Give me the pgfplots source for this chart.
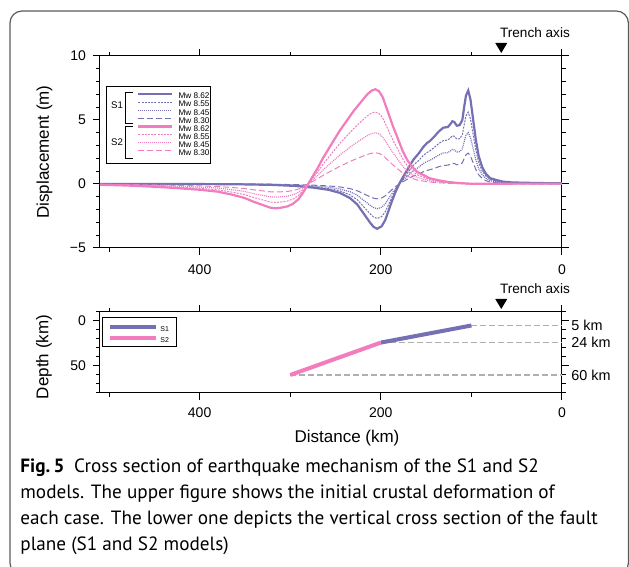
\documentclass[border=0pt]{standalone}
\usepackage{fontspec}
\setmainfont{Liberation Sans}
\newfontfamily\capfont{PT Sans}
\usepackage{pgfplots}
\pgfplotsset{compat=1.18}

\definecolor{sone}{RGB}{117,112,179}
\definecolor{stwo}{RGB}{242,125,190}
\definecolor{framecol}{RGB}{90,90,90}
\definecolor{guide}{RGB}{175,175,175}

\newcommand{\fs}[1]{\fontsize{#1}{#1}\selectfont}

\pgfplotsset{
  gmt/.style={
    scale only axis, width=231pt,
    x dir=reverse, xmin=0, xmax=510,
    xtick={0,200,400}, minor xtick={100,300,500},
    tick align=outside, major tick length=3.5pt, minor tick length=2pt,
    axis line style={line width=0.5pt},
    every tick/.style={black, line width=0.5pt},
    every minor tick/.style={black, line width=0.5pt},
    ticklabel style={font=\fs{7}},
    /pgf/number format/assume math mode=true,
    clip=false,
  },
  l62/.style={line width=1.1pt},
  l55/.style={line width=0.5pt, dash pattern=on 1pt off 0.6pt},
  l45/.style={line width=0.6pt, dash pattern=on 0.5pt off 0.5pt},
  l30/.style={line width=0.5pt, dash pattern=on 3pt off 1.5pt},
}

% displacement profiles (distance km, displacement m)
\pgfplotstableread{
d v
0 0.05
30 0.08
55 0.12
65 0.18
72 0.30
79 0.45
84 0.80
88 1.30
92 2.20
95 3.40
98 5.00
101 6.60
103.5 7.30
106 6.90
108 6.00
110 5.00
113 4.60
116 4.55
119 4.85
121 4.90
123 4.70
126 4.45
131 4.40
136 4.10
141 3.70
146 3.35
149 3.20
153 2.90
158 2.40
164 1.90
170 1.20
175 0.60
179 0.10
183 -0.50
187 -1.20
191 -2.00
195 -2.80
199 -3.30
204 -3.50
208 -3.35
212 -3.00
216 -2.60
221 -2.10
226 -1.60
234 -1.10
245 -0.70
258 -0.45
275 -0.28
295 -0.15
320 -0.07
360 -0.02
420 0
510 0
}\sonea
\pgfplotstableread{
d v
0 0.04
30 0.06
55 0.09
65 0.14
72 0.23
79 0.35
84 0.62
88 1.00
92 1.69
95 2.62
98 3.85
101 5.08
103.5 5.62
106 5.31
108 4.62
110 3.85
113 3.54
116 3.50
119 3.73
121 3.77
123 3.62
126 3.43
131 3.39
136 3.16
141 2.85
146 2.58
149 2.46
153 2.23
158 1.85
164 1.46
170 0.92
175 0.46
179 0.08
183 -0.39
187 -0.92
191 -1.54
195 -2.16
199 -2.54
204 -2.70
208 -2.58
212 -2.31
216 -2.00
221 -1.62
226 -1.23
234 -0.85
245 -0.54
258 -0.35
275 -0.22
295 -0.12
320 -0.05
360 -0.02
420 0
510 0
}\soneb
\pgfplotstableread{
d v
0 0.03
30 0.04
55 0.07
65 0.10
72 0.17
79 0.25
84 0.44
88 0.72
92 1.21
95 1.87
98 2.75
101 3.63
103.5 4.02
106 3.80
108 3.30
110 2.75
113 2.53
116 2.50
119 2.67
121 2.70
123 2.59
126 2.45
131 2.42
136 2.26
141 2.04
146 1.84
149 1.76
153 1.60
158 1.32
164 1.05
170 0.66
175 0.33
179 0.06
183 -0.28
187 -0.66
191 -1.10
195 -1.54
199 -1.82
204 -1.93
208 -1.84
212 -1.65
216 -1.43
221 -1.16
226 -0.88
234 -0.61
245 -0.39
258 -0.25
275 -0.15
295 -0.08
320 -0.04
360 -0.01
420 0
510 0
}\sonec
\pgfplotstableread{
d v
0 0.02
30 0.03
55 0.04
65 0.06
72 0.10
79 0.15
84 0.26
88 0.43
92 0.73
95 1.12
98 1.65
101 2.18
103.5 2.41
106 2.28
108 1.98
110 1.65
113 1.52
116 1.50
119 1.60
121 1.62
123 1.55
126 1.47
131 1.45
136 1.35
141 1.22
146 1.11
149 1.06
153 0.96
158 0.79
164 0.63
170 0.40
175 0.20
179 0.03
183 -0.17
187 -0.40
191 -0.66
195 -0.92
199 -1.09
204 -1.16
208 -1.11
212 -0.99
216 -0.86
221 -0.69
226 -0.53
234 -0.36
245 -0.23
258 -0.15
275 -0.09
295 -0.05
320 -0.02
360 -0.01
420 0
510 0
}\soned
\pgfplotstableread{
d v
0 0.03
40 0.03
80 0.02
100 0.02
115 0.08
127 0.17
137 0.30
146 0.45
153 0.70
160 0.95
166 1.40
171 1.90
176 2.60
182 3.70
186 4.40
190 5.20
194 6.00
198 6.80
202 7.25
206 7.40
210 7.30
215 7.00
222 6.40
230 5.70
238 4.90
245 4.20
252 3.40
258 2.70
264 2.00
270 1.20
276 0.50
281 -0.10
286 -0.70
291 -1.20
297 -1.55
303 -1.75
310 -1.85
316 -1.90
322 -1.85
330 -1.65
340 -1.40
350 -1.10
363 -0.85
380 -0.60
400 -0.45
430 -0.30
455 -0.20
480 -0.12
510 -0.06
}\stwoa
\pgfplotstableread{
d v
0 0.02
40 0.02
80 0.02
100 0.02
115 0.06
127 0.13
137 0.23
146 0.34
153 0.53
160 0.72
166 1.06
171 1.44
176 1.98
182 2.81
186 3.34
190 3.95
194 4.56
198 5.17
202 5.51
206 5.62
210 5.55
215 5.32
222 4.86
230 4.33
238 3.72
245 3.19
252 2.58
258 2.05
264 1.52
270 0.91
276 0.38
281 -0.08
286 -0.53
291 -0.91
297 -1.18
303 -1.33
310 -1.41
316 -1.44
322 -1.41
330 -1.25
340 -1.06
350 -0.84
363 -0.65
380 -0.46
400 -0.34
430 -0.23
455 -0.15
480 -0.09
510 -0.05
}\stwob
\pgfplotstableread{
d v
0 0.02
40 0.02
80 0.01
100 0.01
115 0.04
127 0.09
137 0.16
146 0.24
153 0.38
160 0.51
166 0.76
171 1.03
176 1.40
182 2.00
186 2.38
190 2.81
194 3.24
198 3.67
202 3.92
206 4.00
210 3.94
215 3.78
222 3.46
230 3.08
238 2.65
245 2.27
252 1.84
258 1.46
264 1.08
270 0.65
276 0.27
281 -0.05
286 -0.38
291 -0.65
297 -0.84
303 -0.95
310 -1.00
316 -1.03
322 -1.00
330 -0.89
340 -0.76
350 -0.59
363 -0.46
380 -0.32
400 -0.24
430 -0.16
455 -0.11
480 -0.06
510 -0.03
}\stwoc
\pgfplotstableread{
d v
0 0.01
40 0.01
80 0.01
100 0.01
115 0.03
127 0.06
137 0.10
146 0.15
153 0.23
160 0.31
166 0.46
171 0.63
176 0.86
182 1.22
186 1.45
190 1.72
194 1.98
198 2.24
202 2.39
206 2.44
210 2.41
215 2.31
222 2.11
230 1.88
238 1.62
245 1.39
252 1.12
258 0.89
264 0.66
270 0.40
276 0.17
281 -0.03
286 -0.23
291 -0.40
297 -0.51
303 -0.58
310 -0.61
316 -0.63
322 -0.61
330 -0.54
340 -0.46
350 -0.36
363 -0.28
380 -0.20
400 -0.15
430 -0.10
455 -0.07
480 -0.04
510 -0.02
}\stwod

\begin{document}
\begin{tikzpicture}
\useasboundingbox (0,0) rectangle (314.5pt,283.5pt);
\draw[framecol, line width=0.6pt, rounded corners=6pt] (5pt,-4pt) rectangle (314.2pt,278pt);

% upper panel: displacement
\begin{axis}[gmt, at={(50pt,159.5pt)}, anchor=south west, height=96pt,
  ymin=-5, ymax=10, ytick={-5,0,5,10}, yticklabels={−5,0,5,10},
  minor ytick={-4,...,9},
  xticklabel style={yshift=-1.5pt},
  legend style={at={(0.08,0.812)}, anchor=north west, draw=none, fill=none,
    font=\fs{4.1}, inner sep=0pt, row sep=-0.25pt, column sep=2.5pt,
    nodes={inner sep=0pt, text height=3.2pt, text depth=1.09pt}},
  legend cell align=left,
  legend image code/.code={\draw[#1] (0pt,1.3pt) -- (17pt,1.3pt);},
]
\addplot[sone, l62] table[x=d, y=v] {\sonea}; \addlegendentry{Mw 8.62}
\addplot[sone, l55] table[x=d, y=v] {\soneb}; \addlegendentry{Mw 8.55}
\addplot[sone, l45] table[x=d, y=v] {\sonec}; \addlegendentry{Mw 8.45}
\addplot[sone, l30] table[x=d, y=v] {\soned}; \addlegendentry{Mw 8.30}
\addplot[stwo, l62] table[x=d, y=v] {\stwoa}; \addlegendentry{Mw 8.62}
\addplot[stwo, l55] table[x=d, y=v] {\stwob}; \addlegendentry{Mw 8.55}
\addplot[stwo, l45] table[x=d, y=v] {\stwoc}; \addlegendentry{Mw 8.45}
\addplot[stwo, l30] table[x=d, y=v] {\stwod}; \addlegendentry{Mw 8.30}
\fill ([yshift=1.5pt]axis cs:67,10) -- ++(-3pt,5pt) -- ++(6pt,0pt) -- cycle;
\node[anchor=base west, inner sep=0pt, font=\fs{6.8}] at ([xshift=-0.8pt, yshift=9pt]axis cs:67,10) {Trench axis};
\end{axis}

% upper legend frame and model brackets
\draw[line width=0.5pt] (53.5pt,201.5pt) rectangle (105.5pt,240pt);
\draw[line width=0.5pt] (66.5pt,237.15pt) -- (63pt,237.15pt) -- (63pt,221.85pt) -- (66.5pt,221.85pt);
\draw[line width=0.5pt] (66.5pt,220.15pt) -- (63pt,220.15pt) -- (63pt,204.35pt) -- (66.5pt,204.35pt);
\node[font=\fs{4.8}, inner sep=0pt] at (58.5pt,231pt) {S1};
\node[font=\fs{4.8}, inner sep=0pt] at (58.5pt,212.5pt) {S2};
\node[rotate=90, font=\fs{8.5}, inner sep=0pt] at (22.25pt,207.5pt) {Displacement (m)};

% lower panel: fault plane geometry
\begin{axis}[gmt, at={(50pt,87pt)}, anchor=south west, height=40.5pt,
  y dir=reverse, ymin=-10, ymax=80, ytick={0,50},
  minor ytick={-10,10,20,30,40,60,70,80},
  xticklabel style={yshift=-0.5pt},
  legend style={at={(0.0173,0.883)}, anchor=north west, draw=none, fill=none,
    font=\fs{3.5}, inner sep=0pt, row sep=-1.7pt, column sep=1pt,
    nodes={inner sep=0pt, text height=5pt, text depth=2.15pt}},
  legend cell align=left,
  legend image code/.code={\draw[#1] (0pt,1pt) -- (23pt,1pt);},
]
\addplot[guide, line width=0.6pt, dash pattern=on 3pt off 1.5pt, forget plot] coordinates {(100,5) (0,5)};
\addplot[guide, line width=0.6pt, dash pattern=on 3pt off 1.5pt, forget plot] coordinates {(200,24) (0,24)};
\addplot[guide, line width=0.6pt, dash pattern=on 3pt off 1.5pt, forget plot] coordinates {(300,60) (0,60)};
\addplot[sone, line width=2pt] coordinates {(100,5) (200,24)}; \addlegendentry{S1}
\addplot[stwo, line width=2pt] coordinates {(200,24) (300,60)}; \addlegendentry{S2}
\fill ([yshift=1.5pt]axis cs:67,-10) -- ++(-3pt,5pt) -- ++(6pt,0pt) -- cycle;
\node[anchor=base west, inner sep=0pt, font=\fs{6.8}] at ([xshift=-0.8pt, yshift=9pt]axis cs:67,-10) {Trench axis};
\node[anchor=west, inner sep=0pt, font=\fs{7.2}] at ([xshift=4.5pt]axis cs:0,5) {5 km};
\node[anchor=west, inner sep=0pt, font=\fs{7.2}] at ([xshift=4.5pt]axis cs:0,24) {24 km};
\node[anchor=west, inner sep=0pt, font=\fs{7.2}] at ([xshift=4.5pt]axis cs:0,60) {60 km};
\end{axis}

\draw[line width=0.5pt] (51.5pt,110pt) rectangle (88.5pt,124.5pt);
\node[rotate=90, font=\fs{8.5}, inner sep=0pt] at (22pt,105pt) {Depth (km)};
\node[font=\fs{8.5}, inner sep=0pt] at (173.5pt,64.5pt) {Distance (km)};

% caption
\begin{scope}[every node/.style={anchor=base west, inner sep=0pt, font=\capfont\fs{9.6}}]
\node at (10pt,47pt) {\textbf{Fig.\,5}\enspace Cross section of earthquake mechanism of the S1 and S2};
\node at (10pt,34.15pt) {models. The upper figure shows the initial crustal deformation of};
\node at (10pt,21.3pt) {each case. The lower one depicts the vertical cross section of the fault};
\node at (10pt,8.45pt) {plane (S1 and S2 models)};
\end{scope}
\end{tikzpicture}
\end{document}
